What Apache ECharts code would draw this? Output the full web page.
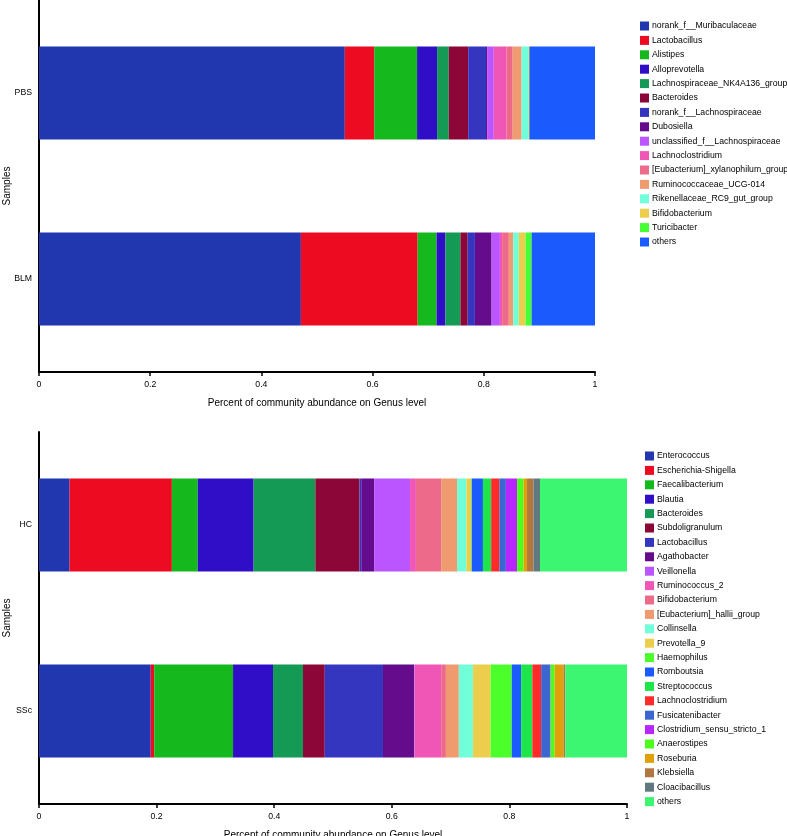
<!DOCTYPE html>
<html>
<head>
<meta charset="utf-8">
<script src="https://cdn.jsdelivr.net/npm/echarts@6/dist/echarts.min.js"></script>
<style>
  html, body { margin: 0; padding: 0; background: #fff; }
  .echarts { position: absolute; left: 0; width: 787px; height: 418px; }
</style>
</head>
<body>
<div id="chartTop" class="echarts" style="top:0"></div>
<div id="chartBottom" class="echarts" style="top:418px"></div>
<script>
  // top panel: PBS / BLM
  const topSamples = ['PBS', 'BLM'];
  const topGenera = [
    'norank_f__Muribaculaceae', 'Lactobacillus', 'Alistipes', 'Alloprevotella',
    'Lachnospiraceae_NK4A136_group', 'Bacteroides', 'norank_f__Lachnospiraceae',
    'Dubosiella', 'unclassified_f__Lachnospiraceae', 'Lachnoclostridium',
    '[Eubacterium]_xylanophilum_group', 'Ruminococcaceae_UCG-014',
    'Rikenellaceae_RC9_gut_group', 'Bifidobacterium', 'Turicibacter', 'others'
  ];
  const topPBS = [0.550, 0.053, 0.077, 0.036, 0.021, 0.035, 0.032, 0.002, 0.012, 0.023, 0.011, 0.016, 0.012, 0.001, 0.001, 0.118];
  const topBLM = [0.471, 0.210, 0.034, 0.016, 0.027, 0.013, 0.013, 0.030, 0.015, 0.004, 0.012, 0.008, 0.010, 0.012, 0.011, 0.114];
  const topColors = [
    '#2137b0', '#ec0b21', '#15b91d', '#300ec8', '#149a55', '#8c0738', '#3536c0', '#640c8c',
    '#bb55ff', '#f056b6', '#ee6a8a', '#f09a70', '#70ffd8', '#eccd4c', '#44ff33', '#1b5bfd'
  ];

  // bottom panel: HC / SSc
  const bottomSamples = ['HC', 'SSc'];
  const bottomGenera = [
    'Enterococcus', 'Escherichia-Shigella', 'Faecalibacterium', 'Blautia', 'Bacteroides',
    'Subdoligranulum', 'Lactobacillus', 'Agathobacter', 'Veillonella', 'Ruminococcus_2',
    'Bifidobacterium', '[Eubacterium]_hallii_group', 'Collinsella', 'Prevotella_9',
    'Haemophilus', 'Romboutsia', 'Streptococcus', 'Lachnoclostridium', 'Fusicatenibacter',
    'Clostridium_sensu_stricto_1', 'Anaerostipes', 'Roseburia', 'Klebsiella',
    'Cloacibacillus', 'others'
  ];
  const bottomHC = [0.052, 0.174, 0.044, 0.095, 0.105, 0.075, 0.003, 0.022, 0.061, 0.010, 0.043, 0.027, 0.016, 0.008, 0.001, 0.019, 0.014, 0.014, 0.011, 0.019, 0.011, 0.006, 0.011, 0.011, 0.148];
  const bottomSSc = [0.190, 0.006, 0.134, 0.068, 0.051, 0.037, 0.099, 0.053, 0.001, 0.045, 0.008, 0.022, 0.024, 0.030, 0.036, 0.016, 0.019, 0.015, 0.015, 0.001, 0.007, 0.015, 0.003, 0.000, 0.105];
  const bottomColors = [
    '#2137b0', '#ec0b21', '#15b91d', '#300ec8', '#149a55', '#8c0738', '#3536c0', '#640c8c',
    '#bb55ff', '#f056b6', '#ee6a8a', '#f09a70', '#70ffd8', '#eccd4c', '#4cff2a', '#1b5bfd',
    '#1ee64a', '#ff2a2a', '#3a66cf', '#b826ff', '#4cff1a', '#e0a00a', '#b07840', '#607880',
    '#3cf570'
  ];

  const font = 'Liberation Sans, Arial, sans-serif';

  function drawPanel(el, samples, genera, first, second, colors, grid, legendPos) {
    let myChart = echarts.init(document.getElementById(el));
    myChart.setOption({
      animation: false,
      textStyle: { fontFamily: font },
      grid: Object.assign({ containLabel: false, outerBoundsMode: 'none' }, grid),
      legend: {
        orient: 'vertical',
        left: legendPos.left,
        top: legendPos.top,
        padding: 0,
        itemWidth: 9,
        itemHeight: 9,
        itemGap: 5.4,
        icon: 'rect',
        data: genera,
        textStyle: { fontFamily: font, fontSize: 8.7, color: '#000', lineHeight: 9, padding: [0, 0, 0, -2] }
      },
      xAxis: {
        type: 'value',
        min: 0,
        max: 1,
        interval: 0.2,
        name: 'Percent of community abundance on Genus level',
        nameLocation: 'middle',
        nameGap: 26,
        nameTextStyle: { fontFamily: font, fontSize: 10, color: '#000' },
        axisLine: { show: true, lineStyle: { color: '#000', width: 2 } },
        axisTick: { show: true, length: 4, lineStyle: { color: '#000', width: 1.5 } },
        axisLabel: { color: '#000', fontSize: 8.7, margin: 8 },
        splitLine: { show: false }
      },
      yAxis: {
        type: 'category',
        inverse: true,
        data: samples,
        name: 'Samples',
        nameLocation: 'middle',
        nameGap: 27,
        nameMoveOverlap: false,
        nameTextStyle: { fontFamily: font, fontSize: 10, color: '#000' },
        axisLine: { lineStyle: { color: '#000', width: 2 } },
        axisTick: { alignWithLabel: true, length: 4, lineStyle: { color: '#000', width: 1.5 } },
        axisLabel: { color: '#000', fontSize: 8.7, margin: 7 }
      },
      series: genera.map((g, i) => ({
        name: g,
        type: 'bar',
        stack: 'total',
        barWidth: '50%',
        itemStyle: { color: colors[i] },
        data: [first[i], second[i]]
      }))
    });
  }

  drawPanel('chartTop', topSamples, topGenera, topPBS, topBLM, topColors,
    { left: 39, top: 0, width: 556, height: 372 }, { left: 640, top: 21.5 });
  drawPanel('chartBottom', bottomSamples, bottomGenera, bottomHC, bottomSSc, bottomColors,
    { left: 39, top: 14, width: 588, height: 372 }, { left: 645, top: 33.5 });
</script>
</body>
</html>
